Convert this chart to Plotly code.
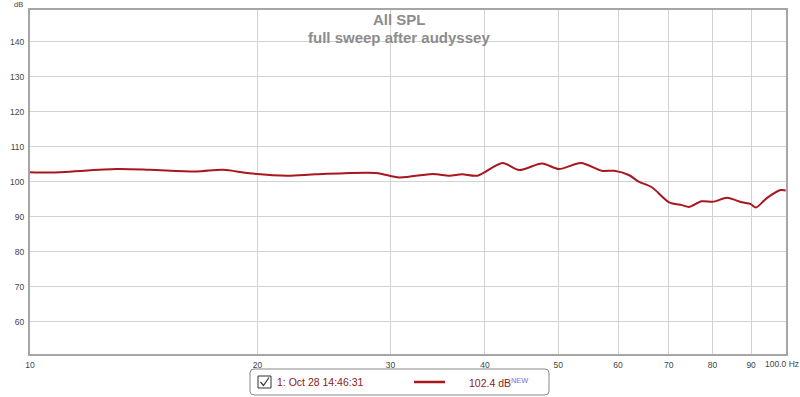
import plotly.graph_objects as go

freq = [10.0, 10.63, 13.03, 14.4, 16.6, 18.0, 19.5, 21.9, 23.9, 28.7, 30.8,
        34.1, 35.9, 37.3, 39.1, 42.2, 44.4, 47.6, 50.1, 53.6, 57.1, 59.3,
        62.0, 63.9, 66.5, 70.1, 72.9, 74.5, 77.4, 80.3, 83.6, 87.5, 89.9,
        91.3, 94.4, 98.5, 100.0]
spl = [102.7, 102.6, 103.6, 103.4, 102.9, 103.4, 102.4, 101.7, 102.1, 102.5, 101.2,
       102.2, 101.7, 102.1, 101.7, 105.3, 103.3, 105.2, 103.6, 105.3, 103.1, 103.1,
       101.9, 100.0, 98.4, 94.1, 93.3, 92.8, 94.4, 94.3, 95.4, 94.1, 93.6,
       92.6, 95.3, 97.6, 97.5]

x_ticks = [10, 20, 30, 40, 50, 60, 70, 80, 90, 100]
x_tick_text = ["10", "20", "30", "40", "50", "60", "70", "80", "90", "100.0 Hz"]
y_ticks = [60, 70, 80, 90, 100, 110, 120, 130, 140]

title = "All SPL"
subtitle = "full sweep after audyssey"
legend_name = "1: Oct 28 14:46:31"
legend_value = "102.4 dB"

W, H = 800, 397
L, R, T, B = 30, 14, 10, 43
PW, PH = W - L - R, H - T - B

def px(x):
    return (x - L) / PW

def py(y):
    return (H - B - y) / PH

line_color = "#a8161e"
tick_font = dict(size=8.5, color="#444444")

fig = go.Figure()
fig.add_trace(go.Scatter(x=freq, y=spl, mode="lines",
                         line=dict(color=line_color, width=2, shape="spline", smoothing=0.8),
                         showlegend=False, hoverinfo="skip"))

# last tick label is drawn as an annotation so it is not clipped at the page edge
shown_tick_text = x_tick_text[:-1] + [""]

fig.update_layout(
    width=W, height=H,
    margin=dict(l=L, r=R, t=T, b=B, autoexpand=False),
    paper_bgcolor="white", plot_bgcolor="white",
    font=dict(family="Liberation Sans, Arial, sans-serif", size=10, color="#444444"),
    xaxis=dict(type="log", range=[1, 2.0004], tickvals=x_ticks, ticktext=shown_tick_text,
               showgrid=True, gridcolor="#d2d2d2", gridwidth=1, automargin=False,
               showline=True, linecolor="#a6a6a6", linewidth=2, mirror=True,
               ticklabelstandoff=2,
               ticks="", zeroline=False, tickfont=tick_font),
    yaxis=dict(range=[50.8, 149], tickvals=y_ticks, automargin=False,
               showgrid=True, gridcolor="#d2d2d2", gridwidth=1,
               showline=True, linecolor="#a6a6a6", linewidth=2, mirror=True,
               ticklabelstandoff=2,
               ticks="", zeroline=False, tickfont=tick_font),
)

annotations = [
    dict(x=px(399), y=py(19), xref="paper", yref="paper", text="<b>" + title + "</b>",
         showarrow=False, font=dict(size=15, color="#8c8c8c"), xanchor="center", yanchor="middle"),
    dict(x=px(399), y=py(37), xref="paper", yref="paper", text="<b>" + subtitle + "</b>",
         showarrow=False, font=dict(size=15, color="#8c8c8c"), xanchor="center", yanchor="middle"),
    dict(x=px(18), y=py(5), xref="paper", yref="paper", text="dB",
         showarrow=False, font=dict(size=7.5, color="#444444"), xanchor="center", yanchor="middle"),
    dict(x=px(782), y=py(364), xref="paper", yref="paper", text=x_tick_text[-1],
         showarrow=False, font=tick_font, xanchor="center", yanchor="middle"),
    dict(x=px(275), y=py(382), xref="paper", yref="paper", text=legend_name,
         showarrow=False, font=dict(size=10.5, color="#8b1a1a"), xanchor="left", yanchor="middle"),
    dict(x=px(467), y=py(382), xref="paper", yref="paper",
         text=legend_value + "<sup><span style='color:#7070e0'>NEW</span></sup>",
         showarrow=False, font=dict(size=10.5, color="#8b1a1a"), xanchor="left", yanchor="middle"),
]
fig.update_layout(annotations=annotations)

shapes = [
    dict(type="path", xref="paper", yref="paper",
         path="M {a},{b} L {c},{b} Q {d},{b} {d},{e} L {d},{f} Q {d},{g} {c},{g} L {a},{g} Q {h},{g} {h},{f} L {h},{e} Q {h},{b} {a},{b} Z".format(
             a=px(254), b=py(369), c=px(545), d=px(549), e=py(373), f=py(391), g=py(395), h=px(250)),
         line=dict(color="#888888", width=1), fillcolor="white"),
    dict(type="rect", xref="paper", yref="paper", x0=px(258), x1=px(271), y0=py(376), y1=py(388),
         line=dict(color="#333333", width=1), fillcolor="white"),
    dict(type="path", xref="paper", yref="paper",
         path="M {},{} L {},{} L {},{}".format(px(260.5), py(382), px(263.5), py(385.5), px(269), py(377.5)),
         line=dict(color="#333333", width=1.2)),
    dict(type="line", xref="paper", yref="paper", x0=px(414), x1=px(445), y0=py(382), y1=py(382),
         line=dict(color=line_color, width=2.5)),
]
fig.update_layout(shapes=shapes)

fig.write_html("out.html", config={"displayModeBar": False},
               post_script="document.body.style.margin='0';document.body.style.padding='0';")
